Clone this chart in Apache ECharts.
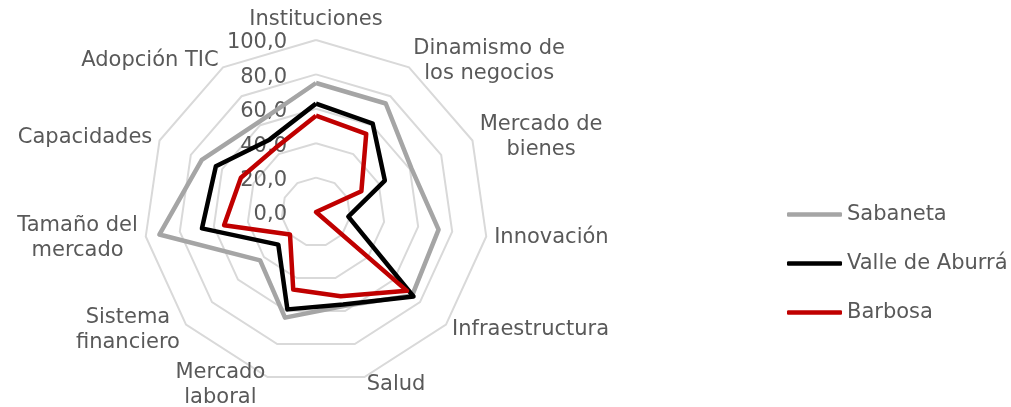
<!DOCTYPE html>
<html>
<head>
<meta charset="utf-8">
<script src="https://cdn.jsdelivr.net/npm/echarts@6/dist/echarts.min.js"></script>
<style>
  html, body { margin: 0; padding: 0; background: #fff; }
  #chart { width: 1011px; height: 407px; }
</style>
</head>
<body>
<div id="chart"></div>
<script>
// ejes del radar, en sentido horario desde arriba (como en Excel)
var categories = ['Instituciones', 'Dinamismo de\nlos negocios', 'Mercado de\nbienes', 'Innovación',
    'Infraestructura', 'Salud', 'Mercado\nlaboral', 'Sistema\nfinanciero', 'Tamaño del\nmercado',
    'Capacidades', 'Adopción TIC'];

var sabaneta = [75, 75, 61, 72, 74, 57, 64, 43, 92, 73, 62];
var valleAburra = [63, 61, 44, 19, 75, 56, 59, 29, 67, 64, 50];
var barbosa = [56, 54, 29, 0, 70, 51, 47, 20, 54, 48, 44];

var seriesNames = ['Sabaneta', 'Valle de Aburrá', 'Barbosa'];
var seriesColors = ['#A5A5A5', '#000000', '#C00000'];

var ticks = [0, 20, 40, 60, 80, 100];

var font = 'DejaVu Sans';
var textColor = '#595959';

//echarts dibuja el radar en sentido antihorario, se invierte el orden
var order = [0];
for (var i = categories.length - 1; i > 0; i--) order.push(i);

function reorder(arr) {
    return order.map(function(i) { return arr[i]; });
}

var indicators = reorder(categories).map(function(name, k) {
    var ind = { name: name, min: ticks[0], max: ticks[ticks.length - 1] };
    if (k === 0) {
        // solo el primer eje lleva las etiquetas
        ind.axisLabel = {
            show: true,
            margin: 29,
            color: textColor,
            fontFamily: font,
            fontSize: 21,
            formatter: function(v) {
                return '{v|' + v.toFixed(1).replace('.', ',') + '}';
            },
            rich: {
                v: { color: textColor, fontFamily: font, fontSize: 21, padding: [6, 0, 0, 0] }
            }
        };
    }
    return ind;
});

var allData = [sabaneta, valleAburra, barbosa];

var series = allData.map(function(vals, k) {
    return {
        type: 'radar',
        name: seriesNames[k],
        color: seriesColors[k],
        symbol: 'none',
        lineStyle: { color: seriesColors[k], width: 4.5 },
        itemStyle: { color: seriesColors[k] },
        data: [{ name: seriesNames[k], value: reorder(vals) }]
    };
});

var chart = echarts.init(document.getElementById('chart'));

chart.setOption({
    animation: false,
    legend: {
        orient: 'vertical',
        left: 782,
        top: 199,
        icon: 'roundRect',
        itemWidth: 55,
        itemHeight: 4.5,
        itemGap: 28,
        data: seriesNames,
        textStyle: { color: textColor, fontFamily: font, fontSize: 21, lineHeight: 20 }
    },
    radar: {
        center: [316, 212],
        radius: 172,
        startAngle: 90,
        shape: 'polygon',
        splitNumber: 5,
        nameGap: 8,
        indicator: indicators,
        axisName: {
            color: textColor,
            fontFamily: font,
            fontSize: 21,
            formatter: function(name) {
                return name.split('\n').map(function(l) { return '{c|' + l + '}'; }).join('\n');
            },
            rich: {
                c: { align: 'center', color: textColor, fontFamily: font, fontSize: 21, lineHeight: 25 }
            }
        },
        axisLine: { show: false },
        axisTick: { show: false },
        axisLabel: { show: false },
        splitLine: { lineStyle: { color: '#D9D9D9', width: 2 } },
        splitArea: { show: false }
    },
    series: series
});
</script>
</body>
</html>
